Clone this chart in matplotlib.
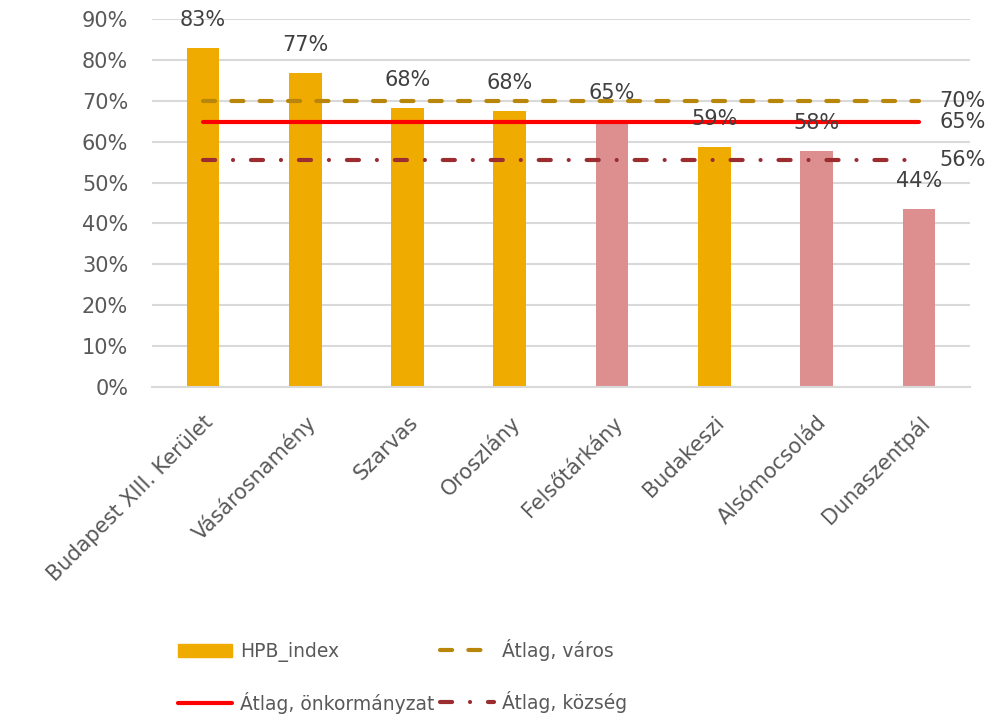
import matplotlib
matplotlib.use("Agg")
import matplotlib.pyplot as plt
from matplotlib.patches import Patch
from matplotlib.lines import Line2D

# data
telepulesek = ['Budapest XIII. Kerület', 'Vásárosnamény', 'Szarvas', 'Oroszlány',
               'Felsőtárkány', 'Budakeszi', 'Alsómocsolád', 'Dunaszentpál']
hpb_index = [0.829, 0.768, 0.682, 0.675, 0.652, 0.587, 0.577, 0.436]
tipus = ['város', 'város', 'város', 'város', 'község', 'város', 'község', 'község']
atlag_varos = 0.70
atlag_onk = 0.647
atlag_kozseg = 0.555

plt.rcParams['font.family'] = ['DejaVu Sans']

col_varos = '#F0AB00'
col_kozseg = '#DD8F8F'
grey = '#595959'
fs = 15

fig = plt.figure(figsize=(9.99, 7.16), dpi=100)
ax = fig.add_axes([0.152, 0.4595, 0.819, 0.514])

x = range(len(telepulesek))
colors = [col_varos if t == 'város' else col_kozseg for t in tipus]
ax.bar(x, hpb_index, width=0.32, color=colors, zorder=2)

for i, v in enumerate(hpb_index):
    ax.annotate(f'{round(v * 100):.0f}%', (i, v), xytext=(0, 20), textcoords='offset points',
                ha='center', va='center', fontsize=fs, color='#404040', zorder=5)

x0, x1 = 0, len(telepulesek) - 1
lw = 3
dash_v = (2.9, 3.9)
dash_k = (2.9, 4.3, 0.01, 4.3)
ax.plot([x0, x1], [atlag_varos] * 2, color='#B8860B', lw=lw, dashes=dash_v,
        dash_capstyle='round', zorder=3)
ax.plot([x0, x1], [atlag_onk] * 2, color='#FF0000', lw=lw, solid_capstyle='round', zorder=3)
ax.plot([x0, x1], [atlag_kozseg] * 2, color='#9B2D30', lw=lw, dashes=dash_k,
        dash_capstyle='round', zorder=3)

for v in [atlag_varos, atlag_onk, atlag_kozseg]:
    ax.text(x1 + 0.20, v, f'{round(v * 100):.0f}%', ha='left', va='center',
            fontsize=fs, color='#404040', clip_on=False)

ax.set_xlim(-0.5, len(telepulesek) - 0.5)
ax.set_ylim(0, 0.9)
ax.set_yticks([i / 10 for i in range(10)])
ax.set_yticklabels([f'{i * 10}%' for i in range(10)])
ax.yaxis.grid(True, color='#D9D9D9', lw=1.5, zorder=0)
ax.set_axisbelow(True)
ax.tick_params(axis='both', length=0, labelsize=fs, labelcolor=grey)
ax.tick_params(axis='y', pad=17)
ax.set_xticks(list(x))
ax.set_xticklabels(telepulesek, rotation=45, ha='right', rotation_mode='anchor')
ax.tick_params(axis='x', pad=18)
for s in ['top', 'right', 'left']:
    ax.spines[s].set_visible(False)
ax.spines['bottom'].set_color('#D9D9D9')
ax.spines['bottom'].set_linewidth(1.5)

handles = [
    Patch(color=col_varos),
    Line2D([], [], color='#FF0000', lw=lw, solid_capstyle='round'),
    Line2D([], [], color='#B8860B', lw=lw, dashes=dash_v, dash_capstyle='round'),
    Line2D([], [], color='#9B2D30', lw=lw, dashes=dash_k, dash_capstyle='round'),
]
labels = ['HPB_index', 'Átlag, önkormányzat', 'Átlag, város', 'Átlag, község']
fig.legend(handles, labels, ncol=2, loc='upper left', bbox_to_anchor=(0.178, 0.108),
           frameon=False, fontsize=13.5, labelcolor=grey, handlelength=2.9,
           handletextpad=0.4, labelspacing=1.6, columnspacing=0.3,
           borderpad=0, borderaxespad=0)

fig.savefig('out.png', dpi=100)
